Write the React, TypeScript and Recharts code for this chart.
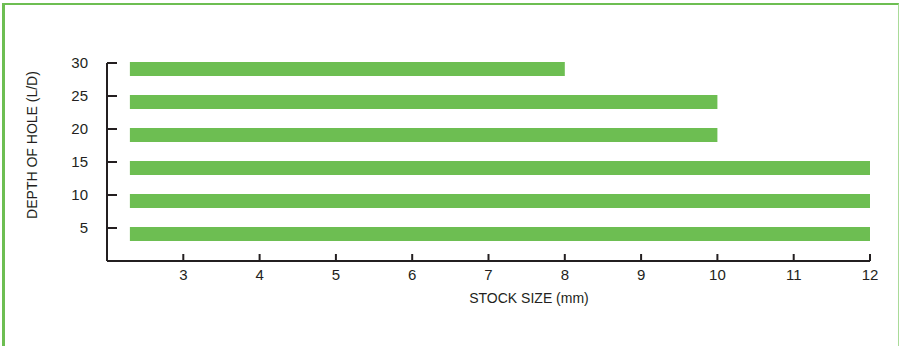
import React from 'react';
import { BarChart, Bar, XAxis, YAxis } from 'recharts';

// --- Depth of hole vs stock size ---
const depths = [30, 25, 20, 15, 10, 5];
const stockSizes = [8, 10, 10, 12, 12, 12];
const barStart = 2.3;
const xTicks = [3, 4, 5, 6, 7, 8, 9, 10, 11, 12];
const yTicks = [5, 10, 15, 20, 25, 30];

const data = depths.map((d, i) => ({ depth: d, range: [barStart, stockSizes[i]] }));

const GREEN = '#6dbe52';
const INK = '#231f20';
const FONT = '"Liberation Sans", Arial, sans-serif';

const tickStyle = { fontSize: 15, fill: INK, fontFamily: FONT };
const axisStroke = { stroke: INK, strokeWidth: 2 };

// bars hang just under their tick, like the printed chart
const BarShape = (props: any) => {
  const { x, y, width, height } = props;
  return <rect x={x} y={y + 6.5} width={width} height={height} fill={GREEN} />;
};

export default function App() {
  return (
    <div style={{ position: 'absolute', left: 0, top: 0, width: 899, height: 346, overflow: 'hidden', background: '#fff' }}>
      <div
        style={{
          position: 'absolute',
          left: 2,
          top: 3,
          width: 897,
          height: 400,
          boxSizing: 'border-box',
          borderTop: `2px solid ${GREEN}`,
          borderLeft: `3px solid ${GREEN}`,
          borderRight: '1.5px solid #a9db98',
        }}
      />
      <div style={{ position: 'absolute', left: 0, top: 0 }}>
        <BarChart
          width={899}
          height={346}
          data={data}
          layout="vertical"
          margin={{ top: 63, right: 29, bottom: 55, left: 0 }}
        >
          <XAxis
            type="number"
            domain={[2, 12]}
            ticks={xTicks}
            height={30}
            axisLine={axisStroke}
            tickLine={axisStroke}
            tickSize={-7}
            tickMargin={15}
            tick={tickStyle}
          />
          <YAxis
            type="number"
            dataKey="depth"
            domain={[0, 30]}
            ticks={yTicks}
            reversed
            width={107}
            axisLine={axisStroke}
            tickLine={axisStroke}
            tickSize={-10}
            tickMargin={29}
            tick={tickStyle}
          />
          <Bar dataKey="range" barSize={14} fill={GREEN} shape={BarShape} isAnimationActive={false} />
        </BarChart>
      </div>
      <div
        style={{
          position: 'absolute',
          left: 32,
          top: 145,
          transform: 'translate(-50%, -50%) rotate(-90deg)',
          whiteSpace: 'nowrap',
          fontFamily: FONT,
          fontSize: 14,
          color: INK,
        }}
      >
        DEPTH OF HOLE (L/D)
      </div>
      <div
        style={{
          position: 'absolute',
          left: 529,
          top: 298,
          transform: 'translate(-50%, -50%)',
          whiteSpace: 'nowrap',
          fontFamily: FONT,
          fontSize: 14,
          color: INK,
        }}
      >
        STOCK SIZE (mm)
      </div>
    </div>
  );
}
